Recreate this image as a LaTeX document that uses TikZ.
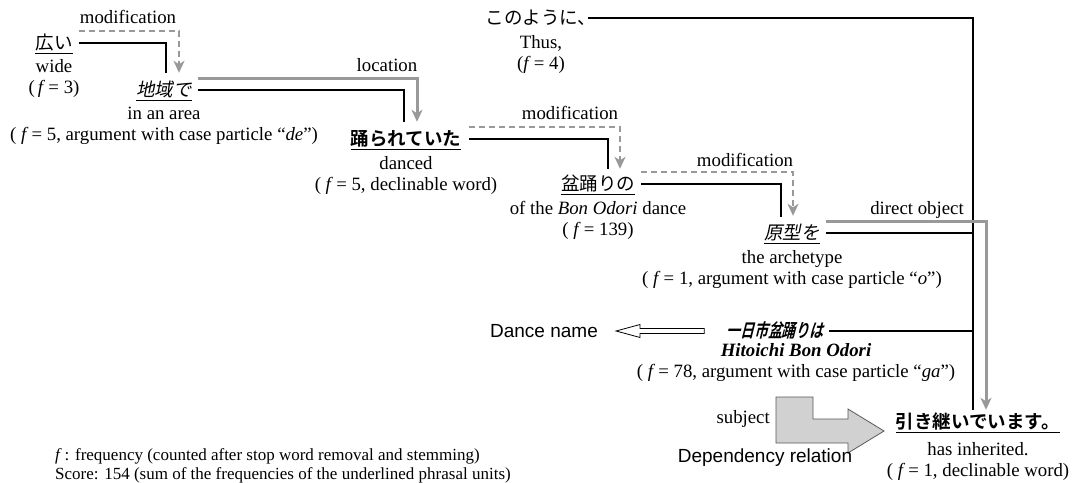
\documentclass[tikz,border=0pt]{standalone}
\usepackage{fontspec}
\setmainfont{Liberation Serif}
\setsansfont{Liberation Sans}
\newfontfamily\jp{Noto Sans CJK JP}
\newfontfamily\jpsl[FakeSlant=0.2]{Noto Sans CJK JP}
\newfontfamily\jpb{Noto Sans CJK JP Bold}
\newfontfamily\jpbsl[FakeSlant=0.25,FakeStretch=0.75]{Noto Sans CJK JP Bold}
\usetikzlibrary{arrows.meta,positioning,calc}
\definecolor{relgray}{gray}{0.6}
\definecolor{blockfill}{gray}{0.82}
\definecolor{blockline}{gray}{0.35}
\tikzset{
  jw/.style={inner sep=0pt, text height=15pt, text depth=3pt, font=\jp\fontsize{18.5}{20}\selectfont},
  jwi/.style={jw, font=\jpsl\fontsize{18.5}{20}\selectfont},
  jwb/.style={jw, font=\jpb\fontsize{18.5}{20}\selectfont},
  jwbi/.style={jw, font=\jpbsl\fontsize{18.5}{20}\selectfont},
  gl/.style={align=center, inner sep=0pt},
  lab/.style={inner sep=0pt, text height=13pt, text depth=1pt},
  sflab/.style={lab, font=\sffamily\fontsize{19}{22}\selectfont},
  uline/.style={line width=1.2pt},
  dep/.style={line width=1.2pt},
  tip/.style={-{Stealth[length=12pt,width=11pt,inset=3.5pt]}},
  mod/.style={draw=relgray, line width=2.2pt, dash pattern=on 6pt off 4pt, tip},
  rel/.style={draw=relgray, line width=3pt, tip},
}
\begin{document}
\begin{tikzpicture}[x=1pt,y=-1pt,font=\fontsize{18.8}{21}\selectfont]
\useasboundingbox (0,0) rectangle (1079,482);

% phrasal units and their glosses
\node[jw] (w1) at (54,43) {広い};
\node[gl, below=7pt of w1] (g1) {wide\\(\,\textit{f}\,= 3)};
\node[jwi] (w2) at (164,90) {地域で};
\node[gl, below=8pt of w2] (g2) {in an area\\( \textit{f}\,= 5, argument with case particle “\textit{de}”)};
\node[jwb] (w3) at (406,139) {踊られていた};
\node[gl, below=8pt of w3] (g3) {danced\\( \textit{f}\,= 5, declinable word)};
\node[jw] (w4) at (598,184) {盆踊りの};
\node[gl, below=8pt of w4] (g4) {of the \textit{Bon Odori} dance\\( \textit{f}\,= 139)};
\node[jwi] (w5) at (792,233) {原型を};
\node[gl, below=8pt of w5] (g5) {the archetype\\( \textit{f}\,= 1, argument with case particle “\textit{o}”)};
\node[jw] (w6) at (541,18) {このように、};
\node[gl, below=8pt of w6] (g6) {Thus,\\(\textit{f}\,= 4)};
\node[jwbi] (w8) at (775,331) {一日市盆踊りは};
\node[gl, anchor=north] (g8) at (796,343) {\textbf{\textit{Hitoichi Bon Odori}}\\( \textit{f}\,= 78, argument with case particle “\textit{ga}”)};
\node[jwb] (w7) at (978,422) {引き継いでいます。};
\node[gl, below=11pt of w7] (g7) {has inherited.\\( \textit{f}\,= 1, declinable word)};

% underlines of the scored units
\foreach \n in {w1,w2,w3,w4,w5,w7}
  \draw[uline] ([yshift=-1pt]\n.south west) -- ([yshift=-1pt]\n.south east);

% relation labels
\node[lab] (l1) at (128,17) {modification};
\node[lab] (l2) at (387,65) {location};
\node[lab] (l3) at (570,113) {modification};
\node[lab] (l4) at (745,160) {modification};
\node[lab] (l5) at (917,208) {direct object};

% dependencies (black) and relations (gray)
\draw[dep] ([xshift=6pt]w1.east) -| ([xshift=2pt,yshift=8pt]w2.north);
\draw[mod] ([xshift=6pt,yshift=12pt]w1.east) -| ([xshift=15pt,yshift=8pt]w2.north);
\draw[dep] ([xshift=6pt]w2.east) -| ([xshift=-2pt,yshift=8pt]w3.north);
\draw[rel] ([xshift=6pt,yshift=12pt]w2.east) -| ([xshift=11pt,yshift=8pt]w3.north);
\draw[dep] ([xshift=8pt]w3.east) -| ([xshift=10pt,yshift=6pt]w4.north);
\draw[mod] ([xshift=8pt,yshift=12pt]w3.east) -| ([xshift=22pt,yshift=6pt]w4.north);
\draw[dep] ([xshift=6pt]w4.east) -| ([xshift=-11pt,yshift=7pt]w5.north);
\draw[mod] ([xshift=6pt,yshift=12pt]w4.east) -| ([xshift=1pt,yshift=8pt]w5.north);

\coordinate (trunk) at ([xshift=-5pt,yshift=3pt]w7.north);
\draw[dep] ([xshift=-8pt]w6.east) -| (trunk);
\draw[dep] ([xshift=6pt]w5.east) -- (w5.east -| trunk);
\draw[dep] ([xshift=5pt]w8.east) -- (w8.east -| trunk);
\draw[rel] ([xshift=6pt,yshift=12pt]w5.east) -| ([xshift=8pt,yshift=3pt]w7.north);

% hollow arrow towards the dance name
\node[sflab] (dn) at (544,331) {Dance name};
\coordinate (dtail) at ([xshift=-22pt]w8.west);
\coordinate (dtip) at ([xshift=18pt]dn.east);
\draw[line width=0.8pt, fill=white]
  (dtip) -- ($(dtip)+(24,-6.5)$) -- ($(dtip)+(24,-2.5)$) -- ($(dtail)+(0,-2.5)$)
  -- ($(dtail)+(0,2.5)$) -- ($(dtip)+(24,2.5)$) -- ($(dtip)+(24,6.5)$) -- cycle;

% legend of the dependency relation
\draw[blockline, line width=0.8pt, fill=blockfill]
  (776,397) -- (813,397) -- (813,419) -- (848,419) -- (848,409) -- (884,431)
  -- (848,453) -- (848,443) -- (776,443) -- cycle;
\node[lab, anchor=east] (sj) at (770,417) {subject};
\node[sflab] (dr) at (765,456) {Dependency relation};

% notes
\node[gl, anchor=west, align=left, font=\fontsize{17}{19.5}\selectfont] (notes) at (55,466)
  {\textit{f}\,: frequency (counted after stop word removal and stemming)\\
   Score: 154 (sum of the frequencies of the underlined phrasal units)};
\end{tikzpicture}
\end{document}
